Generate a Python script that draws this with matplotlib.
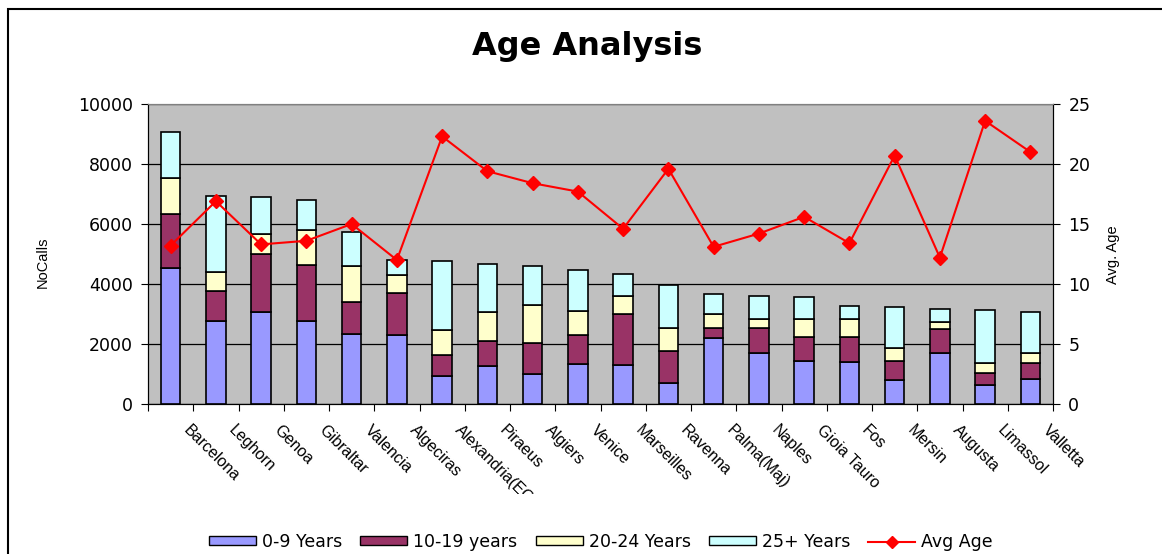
import numpy as np
import matplotlib
matplotlib.use("Agg")
import matplotlib.pyplot as plt
import matplotlib.transforms as mtransforms
from matplotlib.patches import Rectangle, Patch
from matplotlib.lines import Line2D

plt.rcParams['font.family'] = ['Liberation Sans', 'DejaVu Sans']

ports = ["Barcelona", "Leghorn", "Genoa", "Gibraltar", "Valencia", "Algeciras",
         "Alexandria(EGY)", "Piraeus", "Algiers", "Venice", "Marseilles", "Ravenna",
         "Palma(Maj)", "Naples", "Gioia Tauro", "Fos", "Mersin", "Augusta",
         "Limassol", "Valletta"]

# calls per age band
age_0_9 = [4550, 2760, 3060, 2760, 2320, 2290, 920, 1260, 1000, 1340,
           1300, 690, 2190, 1690, 1430, 1390, 790, 1690, 630, 830]
age_10_19 = [1790, 1010, 1950, 1870, 1070, 1410, 720, 850, 1020, 950,
             1710, 1090, 330, 850, 810, 850, 640, 810, 400, 550]
age_20_24 = [1190, 640, 650, 1160, 1200, 590, 820, 950, 1290, 800,
             600, 750, 490, 290, 590, 600, 430, 220, 350, 310]
age_25p = [1550, 2540, 1240, 1020, 1140, 520, 2300, 1620, 1290, 1370,
           720, 1430, 650, 770, 740, 440, 1360, 460, 1760, 1370]
avg_age = [13.2, 16.9, 13.3, 13.6, 15.0, 12.0, 22.3, 19.4, 18.4, 17.7,
           14.6, 19.6, 13.1, 14.2, 15.6, 13.4, 20.7, 12.2, 23.6, 21.0]

band_names = ["0-9 Years", "10-19 years", "20-24 Years", "25+ Years"]
band_colors = ["#9999FF", "#993366", "#FFFFCC", "#CCFFFF"]

fig = plt.figure(figsize=(11.62, 5.54), dpi=100)
ax = fig.add_axes([148 / 1162, 1 - 404 / 554, 905 / 1162, 300 / 554])
ax.set_facecolor("#C0C0C0")

x = np.arange(len(ports))
bottom = np.zeros(len(ports))
for vals, col in zip([age_0_9, age_10_19, age_20_24, age_25p], band_colors):
    ax.bar(x, vals, 0.43, bottom=bottom, color=col, edgecolor="black",
           linewidth=1.2, zorder=3)
    bottom += np.array(vals)

ax.set_xlim(-0.5, len(ports) - 0.5)
ax.set_ylim(0, 10000)
ax.set_yticks(range(0, 10001, 2000))
ax.yaxis.grid(True, color="black", linewidth=0.9, zorder=1)
ax.set_axisbelow(True)
ax.tick_params(axis="y", direction="out", length=5, labelsize=12.5,
               labelfontfamily="DejaVu Sans", pad=6)
ax.set_xticks(np.arange(-0.5, len(ports), 1.0))
ax.set_xticklabels([])
ax.tick_params(axis="x", direction="out", length=5)
ax.spines["top"].set_color("#808080")

# category labels, clipped at the bottom like the original (Alexandria gets cut)
clip = mtransforms.Bbox.from_extents(0, 554 - 494, 1162, 554)
lab_tr = mtransforms.offset_copy(ax.get_xaxis_transform(), fig=fig, x=15, y=-24, units="dots")
for xi, name in zip(x, ports):
    t = ax.text(xi, 0, name, transform=lab_tr, rotation=-45, rotation_mode="anchor",
                ha="left", va="center", fontsize=11.5)
    t.set_clip_box(clip)
    t.set_clip_on(True)

ax2 = ax.twinx()
ax2.plot(x, avg_age, color="#FF0000", linewidth=1.5, marker="D",
         markersize=7, zorder=5)
ax2.set_ylim(0, 25)
ax2.set_yticks(range(0, 26, 5))
ax2.tick_params(axis="y", direction="out", length=5, labelsize=12.5,
                labelfontfamily="DejaVu Sans", pad=6)
ax2.spines["top"].set_color("#808080")

fig.text(43 / 1162, 1 - 262 / 554, "NoCalls", rotation=90, ha="center",
         va="center", fontsize=10.5)
fig.text(1113 / 1162, 1 - 255 / 554, "Avg. Age", rotation=90, ha="center",
         va="center", fontsize=10.5)
fig.text(587 / 1162, 1 - 46 / 554, "Age Analysis", ha="center", va="center",
         fontsize=23, fontweight="bold", family="DejaVu Sans")

handles = [Patch(facecolor=c, edgecolor="black", linewidth=1.0) for c in band_colors]
handles.append(Line2D([], [], color="#FF0000", linewidth=1.5, marker="D", markersize=6))
fig.legend(handles, band_names + ["Avg Age"], loc="center",
           bbox_to_anchor=(601 / 1162, 1 - 542 / 554), ncol=5, frameon=False,
           prop={"family": "DejaVu Sans", "size": 12.5}, handlelength=2.7,
           handleheight=0.4, handletextpad=0.35, columnspacing=1.05,
           borderpad=0.1)

fig.patches.append(Rectangle((8 / 1162, -0.1), 2, 1 - 9 / 554 + 0.1,
                             transform=fig.transFigure, fill=False,
                             edgecolor="black", linewidth=1.5))

fig.savefig("out.png", dpi=100)
